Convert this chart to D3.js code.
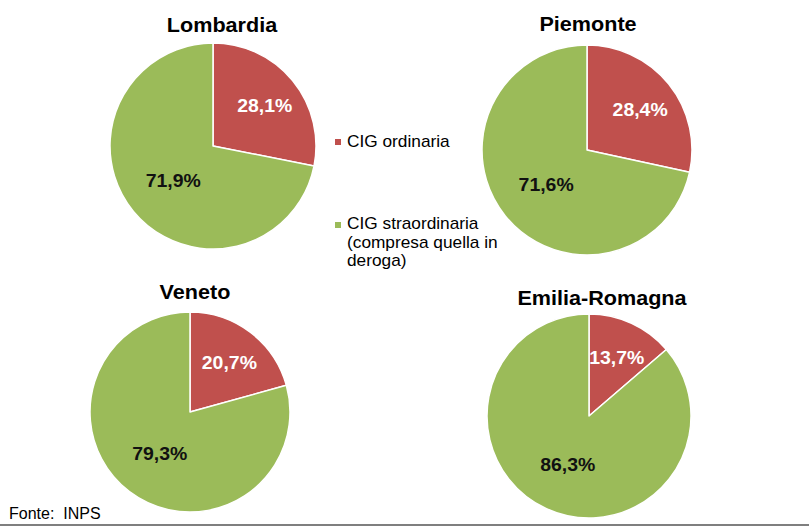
<!DOCTYPE html>
<html>
<head>
<meta charset="utf-8">
<script src="https://cdn.jsdelivr.net/npm/d3@7/dist/d3.min.js"></script>
<style>
  html, body { margin: 0; padding: 0; background: #fff; }
  svg { display: block; font-family: "Liberation Sans", Arial, sans-serif; }
</style>
</head>
<body>
<svg id="chart" width="809" height="527"></svg>
<script>
// ---- data ----
const regions = ["Lombardia", "Piemonte", "Veneto", "Emilia-Romagna"];
const ordinaria = [28.1, 28.4, 20.7, 13.7];
const straordinaria = [71.9, 71.6, 79.3, 86.3];
const seriesNames = ["CIG ordinaria", "CIG straordinaria (compresa quella in deroga)"];
const legendLines = [["CIG ordinaria"], ["CIG straordinaria", "(compresa quella in", "deroga)"]];
const source = "Fonte:  INPS";

// ---- layout (styling) ----
const colors = ["#C0504D", "#9BBB59"];
const labelColors = ["#ffffff", "#111111"];
const labelRadiusFactor = [0.65, 0.5];
const SX = 1.08; // horizontal stretch of the original picture's text
const pieLayout = [
  { cx: 213, cy: 146, r: 103, tx: 222, ty: 32 },
  { cx: 587, cy: 150, r: 105, tx: 588, ty: 31 },
  { cx: 190, cy: 412, r: 100, tx: 195, ty: 299 },
  { cx: 589, cy: 416, r: 102, tx: 602, ty: 305 }
];

const svg = d3.select("#chart");
const fmt = v => d3.format(".1f")(v).replace(".", ",") + "%";

const pie = d3.pie().sort(null).value(d => d.value);

regions.forEach((name, i) => {
  const L = pieLayout[i];
  const data = [
    { key: 0, value: ordinaria[i] },
    { key: 1, value: straordinaria[i] }
  ];
  const arcs = pie(data);
  const arc = d3.arc().innerRadius(0).outerRadius(L.r);
  const g = svg.append("g").attr("transform", `translate(${L.cx},${L.cy})`);

  g.selectAll("path.slice").data(arcs).enter().append("path")
    .attr("class", "slice")
    .attr("d", arc)
    .attr("fill", d => colors[d.data.key])
    .attr("stroke", "#ffffff")
    .attr("stroke-width", 1.5)
    .attr("stroke-linejoin", "round");

  g.selectAll("text.lbl").data(arcs).enter().append("text")
    .attr("class", "lbl")
    .attr("transform", d => {
      const rr = L.r * labelRadiusFactor[d.data.key];
      const c = d3.arc().innerRadius(rr).outerRadius(rr).centroid(d);
      return `translate(${c[0]},${c[1] + 2}) scale(${SX},1)`;
    })
    .attr("text-anchor", "middle")
    .attr("dy", "0.36em")
    .attr("font-size", 18)
    .attr("font-weight", "bold")
    .attr("fill", d => labelColors[d.data.key])
    .text(d => fmt(d.data.value));

  svg.append("text")
    .attr("transform", `translate(${L.tx},${L.ty}) scale(${SX},1)`)
    .attr("text-anchor", "middle")
    .attr("font-size", 20)
    .attr("font-weight", "bold")
    .attr("fill", "#000")
    .text(name);
});

// ---- legend ----
const legendPos = [{ x: 335, y: 139, ty: 147 }, { x: 335, y: 222, ty: 229 }];
legendLines.forEach((lines, k) => {
  const p = legendPos[k];
  svg.append("rect")
    .attr("x", p.x).attr("y", p.y)
    .attr("width", 6).attr("height", 6)
    .attr("fill", colors[k]);
  const t = svg.append("text")
    .attr("transform", `translate(${p.x + 12},${p.ty}) scale(${SX},1)`)
    .attr("font-size", 16)
    .attr("fill", "#000");
  lines.forEach((ln, j) => {
    t.append("tspan").attr("x", 0).attr("dy", j === 0 ? 0 : 18.7).text(ln);
  });
});

// ---- source & bottom rule ----
svg.append("text")
  .attr("x", 9).attr("y", 519)
  .attr("font-size", 16)
  .attr("fill", "#000")
  .style("white-space", "pre")
  .text(source);

svg.append("line")
  .attr("x1", 0).attr("x2", 809)
  .attr("y1", 525).attr("y2", 525)
  .attr("stroke", "#7f7f7f")
  .attr("stroke-width", 2);
</script>
</body>
</html>
